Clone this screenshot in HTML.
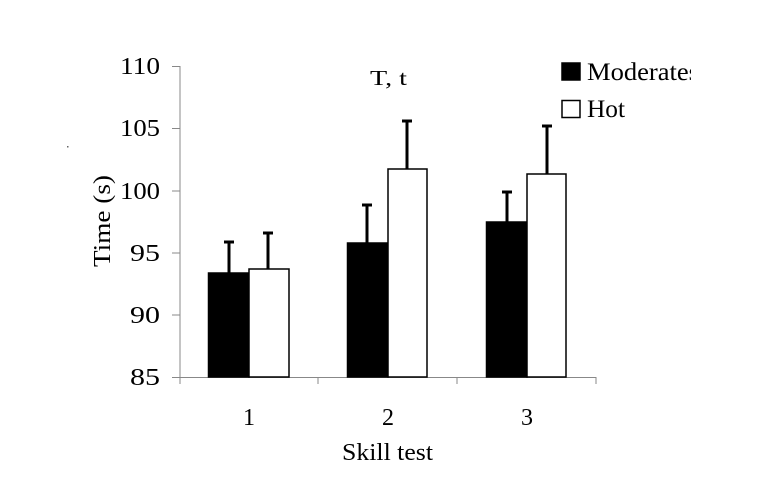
<!DOCTYPE html>
<html><head><style>body{margin:0;background:#fff}svg{display:block}text{font-family:"Liberation Serif","Times New Roman",serif;font-size:24px}</style></head><body>
<svg width="768" height="480" xmlns="http://www.w3.org/2000/svg">
<defs><clipPath id="c"><rect x="0" y="0" width="691" height="480"/></clipPath></defs>
<rect width="768" height="480" fill="#fff"/>
<rect x="67" y="146" width="1.5" height="1.5" fill="#666"/>
<g stroke="#888" stroke-width="1">
<line x1="180" y1="66" x2="180" y2="378"/>
<line x1="172" y1="66.5" x2="180" y2="66.5"/>
<line x1="172" y1="128.5" x2="180" y2="128.5"/>
<line x1="172" y1="191" x2="180" y2="191"/>
<line x1="172" y1="253" x2="180" y2="253"/>
<line x1="172" y1="315" x2="180" y2="315"/>
<line x1="172" y1="377.5" x2="596" y2="377.5"/>
<line x1="180" y1="377" x2="180" y2="384"/>
<line x1="318" y1="377" x2="318" y2="384"/>
<line x1="457" y1="377" x2="457" y2="384"/>
<line x1="596" y1="377" x2="596" y2="384"/>
</g>
<g stroke="#000" stroke-width="3">
<line x1="229" y1="242" x2="229" y2="273"/><line x1="224" y1="242" x2="234" y2="242"/>
<line x1="268" y1="233" x2="268" y2="269"/><line x1="263" y1="233" x2="273" y2="233"/>
<line x1="367" y1="205" x2="367" y2="243"/><line x1="362" y1="205" x2="372" y2="205"/>
<line x1="407" y1="121" x2="407" y2="169"/><line x1="402" y1="121" x2="412" y2="121"/>
<line x1="507" y1="192" x2="507" y2="222"/><line x1="502" y1="192" x2="512" y2="192"/>
<line x1="547" y1="126" x2="547" y2="174"/><line x1="542" y1="126" x2="552" y2="126"/>
</g>
<g stroke="#000" stroke-width="1.5">
<rect x="208.5" y="273" width="40.5" height="104" fill="#000"/>
<rect x="249" y="269" width="40" height="108" fill="#fff"/>
<rect x="347.5" y="243" width="40.5" height="134" fill="#000"/>
<rect x="388" y="169" width="39" height="208" fill="#fff"/>
<rect x="486.5" y="222" width="40.5" height="155" fill="#000"/>
<rect x="527" y="174" width="39" height="203" fill="#fff"/>
<rect x="562" y="63" width="18" height="17" fill="#000"/>
<rect x="562" y="100.5" width="18" height="17" fill="#fff"/>
</g>
<g fill="#000">
<text x="587" y="80" clip-path="url(#c)" style="font-size:25px" textLength="112" lengthAdjust="spacingAndGlyphs">Moderates</text>
<text x="587" y="117" style="font-size:25px" textLength="38" lengthAdjust="spacingAndGlyphs">Hot</text>
<text x="370" y="85" style="font-size:21px" textLength="37" lengthAdjust="spacingAndGlyphs">T, t</text>
<text x="120" y="74" textLength="40" lengthAdjust="spacingAndGlyphs">110</text>
<text x="120" y="136" textLength="40" lengthAdjust="spacingAndGlyphs">105</text>
<text x="120" y="199" textLength="40" lengthAdjust="spacingAndGlyphs">100</text>
<text x="130" y="261" textLength="30" lengthAdjust="spacingAndGlyphs">95</text>
<text x="130" y="323" textLength="30" lengthAdjust="spacingAndGlyphs">90</text>
<text x="130" y="385" textLength="30" lengthAdjust="spacingAndGlyphs">85</text>
<text x="243" y="425">1</text>
<text x="382" y="425">2</text>
<text x="521" y="425">3</text>
<text x="342" y="460" textLength="91" lengthAdjust="spacingAndGlyphs">Skill test</text>
<text transform="translate(110,267) rotate(-90)" textLength="92" lengthAdjust="spacingAndGlyphs">Time (s)</text>
</g>
</svg>
</body></html>
